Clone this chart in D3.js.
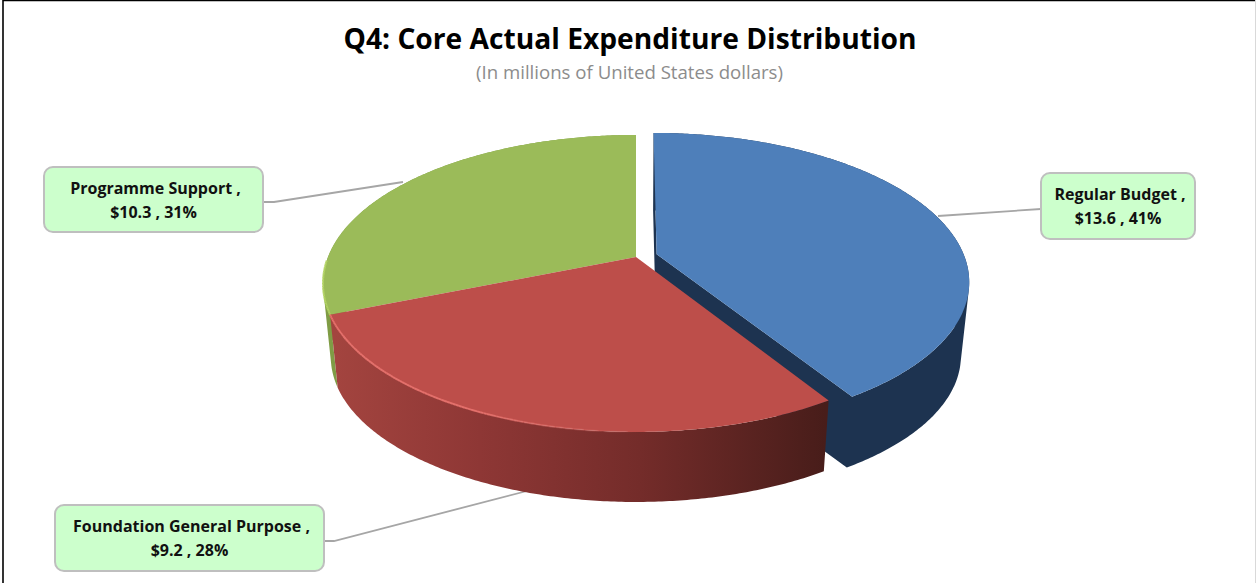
<!DOCTYPE html>
<html>
<head>
<meta charset="utf-8">
<script src="https://cdn.jsdelivr.net/npm/d3@7"></script>
<style>
  html, body { margin: 0; padding: 0; background: #fff; }
  svg { display: block; }
  text { font-variant-ligatures: none; }
</style>
</head>
<body>
<div id="chart"></div>
<script>
// the values
const categories = ["Regular Budget", "Foundation General Purpose", "Programme Support"];
const amounts = [13.6, 9.2, 10.3];
const percents = [41, 28, 31];

const width = 1256, height = 583;

// pie geometry: a flat circle seen in perspective, then extruded downward
const cx = 636, cy = 257;
const rx = 308, ry = 143.8, persp = 0.178;
const bottomScale = 0.975, thickness = 74.4;
const explode = [0.07, 0, 0];

const topColor = ["#4e7fba", "#bd4e4a", "#9bbb59"];
const rimColor = [null, "#e8726d", "#b4d565"];

// shading of the side walls, by screen x
const sideStops = [
  [[640, "#1d3350"], [970, "#1d3350"]],
  [[335, "#a3443f"], [480, "#8e3735"], [640, "#742c2a"], [825, "#481d1a"]],
  [[320, "#7f9c45"], [340, "#7f9c45"]]
];

const boxes = [
  {x: 1041, y: 173, w: 154, h: 66, leader: [[1041, 209], [938, 216]]},
  {x: 55, y: 505, w: 269, h: 66, leader: [[324, 541], [334, 541], [527, 491]]},
  {x: 44, y: 167, w: 219, h: 65, leader: [[263, 202], [274, 202], [403, 182]]}
];

const svg = d3.select("#chart").append("svg")
    .attr("width", width)
    .attr("height", height);

// frame
svg.append("line").attr("x1", 3).attr("x2", 3).attr("y1", 0).attr("y2", height)
    .attr("stroke", "#000").attr("stroke-width", 1.6);
svg.append("line").attr("x1", 3).attr("x2", width).attr("y1", 0.5).attr("y2", 0.5)
    .attr("stroke", "#000").attr("stroke-width", 1.4);
svg.append("line").attr("x1", 1255.5).attr("x2", 1255.5).attr("y1", 0).attr("y2", height)
    .attr("stroke", "#d9d9d9").attr("stroke-width", 1);

// title
svg.append("text")
    .attr("x", 630).attr("y", 49)
    .attr("text-anchor", "middle")
    .attr("font-family", "Open Sans")
    .attr("font-weight", 700)
    .attr("font-size", 29)
    .attr("fill", "#000")
    .attr("textLength", 573)
    .attr("lengthAdjust", "spacingAndGlyphs")
    .text("Q4: Core Actual Expenditure Distribution");
svg.append("text")
    .attr("x", 629.5).attr("y", 79)
    .attr("text-anchor", "middle")
    .attr("font-family", "Open Sans")
    .attr("font-size", 17.5)
    .attr("fill", "#8c8c8c")
    .attr("textLength", 307)
    .attr("lengthAdjust", "spacingAndGlyphs")
    .text("(In millions of United States dollars)");

// leaders sit behind the pie
const line = d3.line();
boxes.forEach(b => {
  svg.append("path")
      .attr("d", line(b.leader))
      .attr("fill", "none")
      .attr("stroke", "#a6a6a6")
      .attr("stroke-width", 1.8);
});

// ground circle -> screen
function project(X, Y) {
  const w = 1 / (1 + persp * Y);
  return [cx + rx * X * w, cy - ry * Y * w];
}
function lower(p) {
  return [cx + (p[0] - cx) * bottomScale, cy + (p[1] - cy) * bottomScale + thickness];
}
// every quad wound the same way, so that overlaps add up under nonzero fill
function quad(a, b) {
  const pts = [a, b, lower(b), lower(a)];
  if (d3.polygonArea(pts) < 0) pts.reverse();
  return line(pts) + "Z";
}

const slices = d3.pie().sort(null).value(d => d)(amounts);
const pieG = svg.append("g");
const defs = svg.append("defs");

const parts = slices.map((s, i) => {
  const mid = (s.startAngle + s.endAngle) / 2;
  const ox = explode[i] * Math.sin(mid), oy = explode[i] * Math.cos(mid);
  const n = Math.ceil((s.endAngle - s.startAngle) / 0.01);
  const arc = d3.range(n + 1).map(k => {
    const t = s.startAngle + (s.endAngle - s.startAngle) * k / n;
    return project(Math.sin(t) + ox, Math.cos(t) + oy);
  });
  return {i, arc, apex: project(ox, oy)};
});

// back to front: blue, green, red
[parts[0], parts[2], parts[1]].forEach(p => {
  const g = pieG.append("g");
  const stops = sideStops[p.i];

  const grad = defs.append("linearGradient")
      .attr("id", "side" + p.i)
      .attr("gradientUnits", "userSpaceOnUse")
      .attr("x1", stops[0][0]).attr("x2", stops[stops.length - 1][0])
      .attr("y1", 0).attr("y2", 0);
  const off = d3.scaleLinear().domain([stops[0][0], stops[stops.length - 1][0]]).range([0, 1]);
  stops.forEach(st => {
    grad.append("stop").attr("offset", off(st[0])).attr("stop-color", st[1]);
  });

  // outer wall: all strips in one path so no seams show
  let wall = d3.pairs(p.arc).map(([a, b]) => quad(a, b)).join("");

  // cut faces join the wall when the slice is pulled out
  if (explode[p.i] > 0) {
    wall += quad(p.arc[0], p.apex) + quad(p.apex, p.arc[p.arc.length - 1]);
  }
  g.append("path")
      .attr("d", wall)
      .attr("fill", "url(#side" + p.i + ")");

  // top face
  g.append("path")
      .attr("d", line([p.apex, ...p.arc]) + "Z")
      .attr("fill", topColor[p.i]);

  // lit rim
  if (rimColor[p.i]) {
    const xs = p.i === 1 ? [330, 480, 640] : [322, 328, 345];
    const op = d3.scaleLinear().domain(xs).range([0.95, 0.9, 0]).clamp(true);
    d3.pairs(p.arc).forEach(([a, b]) => {
      const show = p.i === 1 || (a[1] > 262);
      if (!show) return;
      g.append("path")
          .attr("d", line([a, b]))
          .attr("stroke", rimColor[p.i])
          .attr("stroke-width", 2)
          .attr("opacity", op(a[0]));
    });
  }
});

// callouts
boxes.forEach((b, i) => {
  const g = svg.append("g");
  g.append("rect")
      .attr("x", b.x).attr("y", b.y)
      .attr("width", b.w).attr("height", b.h)
      .attr("rx", 9)
      .attr("fill", "#ccffcc")
      .attr("stroke", "#bfbfbf")
      .attr("stroke-width", 2);
  const t = g.append("text")
      .attr("font-family", "Open Sans")
      .attr("font-weight", 700)
      .attr("font-size", 16)
      .attr("fill", "#111")
      .attr("text-anchor", "middle");
  t.append("tspan")
      .attr("x", b.x + b.w / 2 + 2).attr("y", b.y + 27)
      .text(categories[i] + " ,");
  t.append("tspan")
      .attr("x", b.x + b.w / 2).attr("y", b.y + 50.5)
      .text("$" + amounts[i] + " , " + percents[i] + "%");
});
</script>
</body>
</html>
